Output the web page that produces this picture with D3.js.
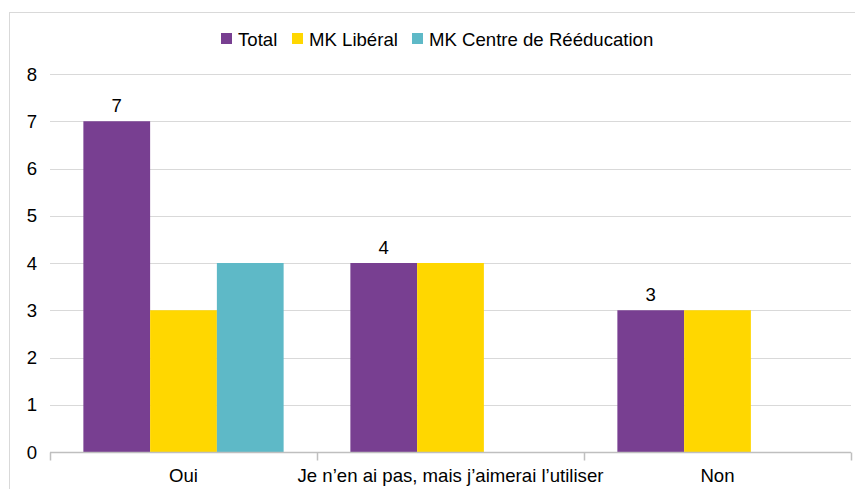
<html>
<head>
<meta charset="utf-8">
<style>
  body{ margin:0; background:#fff; font-family:"Liberation Sans", Arial, sans-serif; }
</style>
</head>
<body>
<script src="https://d3js.org/d3.v7.min.js"></script>
<div id="graph_item"></div>
<script>
// data
var categories = ["Oui", "Je n’en ai pas, mais j’aimerai l’utiliser", "Non"];
var seriesNames = ["Total", "MK Libéral", "MK Centre de Rééducation"];
var total = [7, 4, 3];
var liberal = [3, 4, 3];
var centre = [4, 0, 0];
var yTicks = [0, 1, 2, 3, 4, 5, 6, 7, 8];
var colors = ["#783f91", "#ffd700", "#5eb9c7"];

var W = 855, H = 489;
var margin = {left: 50, right: 4, top: 74, bottom: 37};

var svg = d3.select("#graph_item").append("svg")
  .attr("width", W).attr("height", H);

// outer frame
svg.append("rect")
  .attr("x", 9.5).attr("y", 12.5)
  .attr("width", W).attr("height", H)
  .attr("fill", "none").attr("stroke", "#d9d9d9");

var x = d3.scaleBand().domain(categories).range([margin.left, W - margin.right]);
var xs = d3.scaleBand().domain(seriesNames).range([0, x.bandwidth()]).paddingOuter(0.5);
var y = d3.scaleLinear().domain([0, 8]).range([H - margin.bottom, margin.top]);

// gridlines
svg.append("g").selectAll("line").data(yTicks.slice(1)).join("line")
  .attr("x1", margin.left).attr("x2", W - margin.right)
  .attr("y1", d => Math.round(y(d)) + 0.5).attr("y2", d => Math.round(y(d)) + 0.5)
  .attr("stroke", "#d9d9d9").attr("stroke-width", 1);

// y labels
svg.append("g").selectAll("text").data(yTicks).join("text")
  .attr("x", 37).attr("y", d => y(d))
  .attr("dy", "0.35em")
  .attr("text-anchor", "end")
  .attr("font-size", 18.6).attr("fill", "#000")
  .text(d => d);

// bars
var rows = [];
categories.forEach(function(c, i){
  rows.push({cat: c, s: seriesNames[0], v: total[i], col: colors[0]});
  rows.push({cat: c, s: seriesNames[1], v: liberal[i], col: colors[1]});
  rows.push({cat: c, s: seriesNames[2], v: centre[i], col: colors[2]});
});
svg.append("g").selectAll("rect").data(rows.filter(d => d.v > 0)).join("rect")
  .attr("x", d => x(d.cat) + xs(d.s))
  .attr("width", xs.bandwidth())
  .attr("y", d => y(d.v))
  .attr("height", d => y(0) - y(d.v))
  .attr("fill", d => d.col);

// value labels on Total
svg.append("g").selectAll("text").data(categories).join("text")
  .attr("x", (d) => x(d) + xs(seriesNames[0]) + xs.bandwidth() / 2)
  .attr("y", (d, i) => y(total[i]) - 9)
  .attr("text-anchor", "middle")
  .attr("font-size", 18.6)
  .text((d, i) => total[i]);

// x axis
var xAxis = svg.append("g").attr("transform", "translate(0," + (y(0) + 0.5) + ")");
xAxis.append("line")
  .attr("x1", margin.left).attr("x2", W - margin.right)
  .attr("stroke", "#bfbfbf").attr("stroke-width", 1.5);
var boundaries = categories.map(c => x(c)).concat([W - margin.right]);
xAxis.selectAll(".tk").data(boundaries).join("line")
  .attr("class", "tk")
  .attr("x1", d => Math.round(d) + 0.5).attr("x2", d => Math.round(d) + 0.5)
  .attr("y1", 0).attr("y2", 8)
  .attr("stroke", "#bfbfbf").attr("stroke-width", 1.5);
xAxis.selectAll("text").data(categories).join("text")
  .attr("x", d => x(d) + x.bandwidth() / 2)
  .attr("y", 29)
  .attr("text-anchor", "middle")
  .attr("font-size", 18.6)
  .text(d => d);

// legend
var legendX = [221, 292, 412];
var legend = svg.append("g").selectAll("g").data(seriesNames).join("g")
  .attr("transform", (d, i) => "translate(" + legendX[i] + ",33)");
legend.append("rect").attr("width", 11).attr("height", 11)
  .attr("fill", (d, i) => colors[i]);
legend.append("text").attr("x", 17).attr("y", 12.5)
  .attr("font-size", 18.6)
  .text(d => d);
</script>
</body>
</html>
